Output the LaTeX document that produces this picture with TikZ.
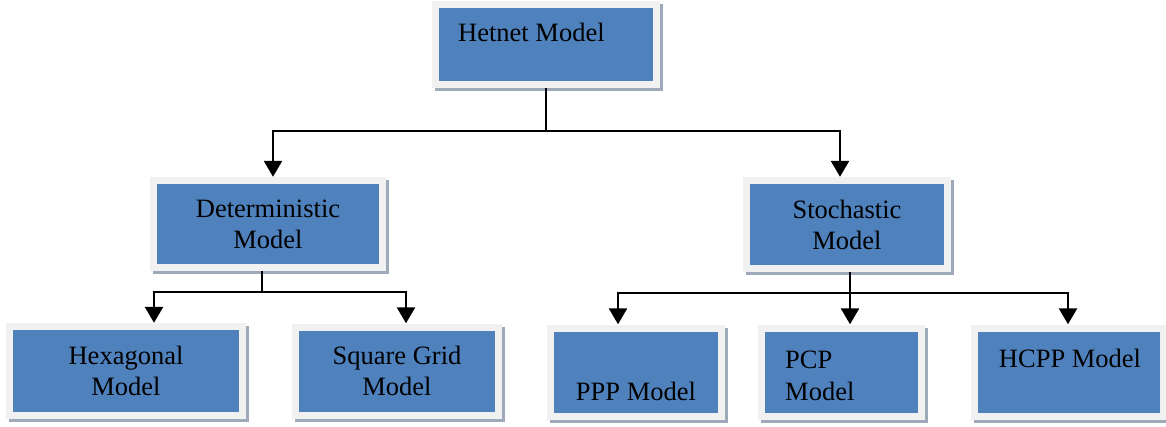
\documentclass[tikz,border=0pt]{standalone}
\usepackage{fontspec}
\setmainfont{Liberation Serif}
\usetikzlibrary{arrows.meta,shadows,calc}
\definecolor{boxblue}{HTML}{4F81BD}
\definecolor{framec}{HTML}{F1F1F1}
\definecolor{shadowc}{HTML}{9EA9BA}
\tikzset{
  box/.style={fill=framec, draw=none, inner sep=0pt, align=center,
    font=\fontsize{26.5}{31}\selectfont,
    path picture={\fill[boxblue] ([shift={(7pt,7pt)}]path picture bounding box.south west) rectangle ([shift={(-7pt,-7pt)}]path picture bounding box.north east);},
    drop shadow={shadow xshift=3pt, shadow yshift=-3pt, fill=shadowc, opacity=1}},
  txt/.style={inner sep=0pt, font=\fontsize{26.5}{31}\selectfont},
  line/.style={line width=2.6pt, draw=black},
  arr/.style={line, -{Triangle[width=18pt,length=16pt]}}
}
\begin{document}
\begin{tikzpicture}[x=1pt,y=-1pt]
\useasboundingbox (0,0) rectangle (1166,427);
\clip (0,0) rectangle (1166,427);
% boxes
\node[box, minimum width=228pt, minimum height=87pt] (het) at (546,44.5) {};
\node[box, minimum width=236pt, minimum height=94pt] (det) at (268,224) {Deterministic\\Model};
\node[box, minimum width=208pt, minimum height=95pt] (sto) at (847,224.5) {Stochastic\\Model};
\node[box, minimum width=240pt, minimum height=96pt] (hex) at (126,371) {Hexagonal\\Model};
\node[box, minimum width=210pt, minimum height=95pt] (sq) at (397,371) {Square Grid\\Model};
\node[box, minimum width=178pt, minimum height=95pt] (ppp) at (636,372) {};
\node[box, minimum width=167pt, minimum height=95pt] (pcp) at (841.5,372) {};
\node[box, minimum width=196pt, minimum height=95pt] (hcpp) at (1069,372) {};
% texts placed off-centre
\node[txt, anchor=base west] (thet) at (458,42) {Hetnet Model};
\node[txt, anchor=base] (tppp) at (636,400) {PPP Model};
\node[txt, anchor=base west] (tpcp1) at (785,368) {PCP};
\node[txt, anchor=base west] (tpcp2) at (785,400) {Model};
\node[txt, anchor=base] (thcpp) at (1070,367) {HCPP Model};
% connectors
\coordinate (jt) at (546,131);
\coordinate (jd) at (262,292);
\coordinate (js) at (850,293);
\draw[line] (het.south) -- (jt);
\draw[arr] (jt) -| ([xshift=5pt]det.north);
\draw[arr] (jt) -| ([xshift=-7pt]sto.north);
\draw[line] ([xshift=-6pt]det.south) -- (jd);
\draw[arr] (jd) -| ([xshift=28pt]hex.north);
\draw[arr] (jd) -| ([xshift=9pt]sq.north);
\draw[arr] ([xshift=3pt]sto.south) -- ([xshift=3pt]sto.south |- pcp.north);
\draw[arr] (js) -| ([xshift=-18pt]ppp.north);
\draw[arr] (js) -| ([xshift=-1pt]hcpp.north);
\end{tikzpicture}
\end{document}
